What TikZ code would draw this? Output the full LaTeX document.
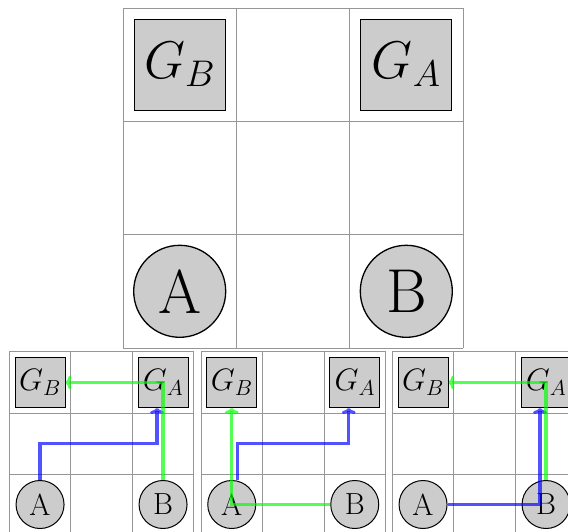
\RequirePackage{fix-cm}
\documentclass[tikz,border=0pt]{standalone}
\usetikzlibrary{arrows.meta}
\definecolor{gridgray}{RGB}{150,150,150}
\definecolor{boxfill}{RGB}{204,204,204}
\tikzset{
  gline/.style={draw=gridgray, line width=0.9pt},
  bigbox/.style={draw=black, fill=boxfill, line width=1.3pt, minimum size=91pt, inner sep=0pt, font=\fontsize{53}{60}\selectfont},
  bigcirc/.style={circle, draw=black, fill=boxfill, line width=1.3pt, minimum size=92pt, inner sep=0pt, font=\fontsize{62}{72}\selectfont},
  smallbox/.style={draw=black, fill=boxfill, line width=1pt, minimum size=50pt, inner sep=0pt, font=\fontsize{31}{36}\selectfont},
  smallcirc/.style={circle, draw=black, fill=boxfill, line width=1pt, minimum size=48pt, inner sep=0pt, font=\fontsize{30.5}{36}\selectfont},
  tipstyle/.style={-{To[length=6pt,width=14pt,line width=3pt]}},
  bluearr/.style={draw=blue, opacity=0.68, line width=3.3pt, tipstyle},
  greenarr/.style={draw=green, opacity=0.68, line width=3.3pt, tipstyle}
}
\begin{document}
\begin{tikzpicture}[x=1pt,y=-1pt]
\path[use as bounding box, clip] (0,0) rectangle (568,531);
% top grid
\foreach \i in {0,1,2,3} {
  \draw[gline] (123+\i*113.33,8) -- (123+\i*113.33,348);
  \draw[gline] (123,8+\i*113.33) -- (463,8+\i*113.33);
}
\node[bigbox] (GB) at (179.7,64.7) {$G_B$};
\node[bigbox] (GA) at (406.3,64.7) {$G_A$};
\node[bigcirc] (A) at (179.7,291.3) {A};
\node[bigcirc] (B) at (406.3,291.3) {B};

% small grid 1
\begin{scope}[xshift=9.3pt]
\foreach \i in {0,1,2,3} {
  \draw[gline] (\i*61.5,351.7) -- (\i*61.5,536.2);
  \draw[gline] (0,351.7+\i*61.5) -- (184.5,351.7+\i*61.5);
}
\node[smallbox] (GB1) at (30.75,382.5) {$G_B$};
\node[smallbox] (GA1) at (153.75,382.5) {$G_A$};
\node[smallcirc] (A1) at (30.75,504.5) {A};
\node[smallcirc] (B1) at (153.75,504.5) {B};
\coordinate (b1) at (147.75,443.5);
\draw[bluearr] (A1.north) |- (b1) -- (b1 |- GA1.south);
\draw[greenarr] (B1.north) -- (GA1.center) -- (GB1.east);
\end{scope}

% small grid 2
\begin{scope}[xshift=201pt]
\foreach \i in {0,1,2,3} {
  \draw[gline] (\i*61.5,351.7) -- (\i*61.5,536.2);
  \draw[gline] (0,351.7+\i*61.5) -- (184.5,351.7+\i*61.5);
}
\node[smallbox] (GB2) at (30.75,382.5) {$G_B$};
\node[smallbox] (GA2) at (153.75,382.5) {$G_A$};
\node[smallcirc] (A2) at (30.75,504.5) {A};
\node[smallcirc] (B2) at (153.75,504.5) {B};
\coordinate (c2) at (36.75,443.5);
\coordinate (d2) at (147.75,443.5);
\draw[bluearr] (A2.north -| c2) -- (c2) -- (d2) -- (d2 |- GA2.south);
\draw[greenarr] (B2.west) -- (A2.center) -- (GB2.south);
\end{scope}

% small grid 3
\begin{scope}[xshift=392.3pt]
\foreach \i in {0,1,2,3} {
  \draw[gline] (\i*61.5,351.7) -- (\i*61.5,536.2);
  \draw[gline] (0,351.7+\i*61.5) -- (184.5,351.7+\i*61.5);
}
\node[smallbox] (GB3) at (30.75,382.5) {$G_B$};
\node[smallbox] (GA3) at (153.75,382.5) {$G_A$};
\node[smallcirc] (A3) at (30.75,504.5) {A};
\node[smallcirc] (B3) at (153.75,504.5) {B};
\coordinate (d3) at (147.75,504.5);
\draw[bluearr] (A3.east) -- (d3) -- (d3 |- GA3.south);
\draw[greenarr] (B3.north) -- (GA3.center) -- (GB3.east);
\end{scope}
\end{tikzpicture}
\end{document}
